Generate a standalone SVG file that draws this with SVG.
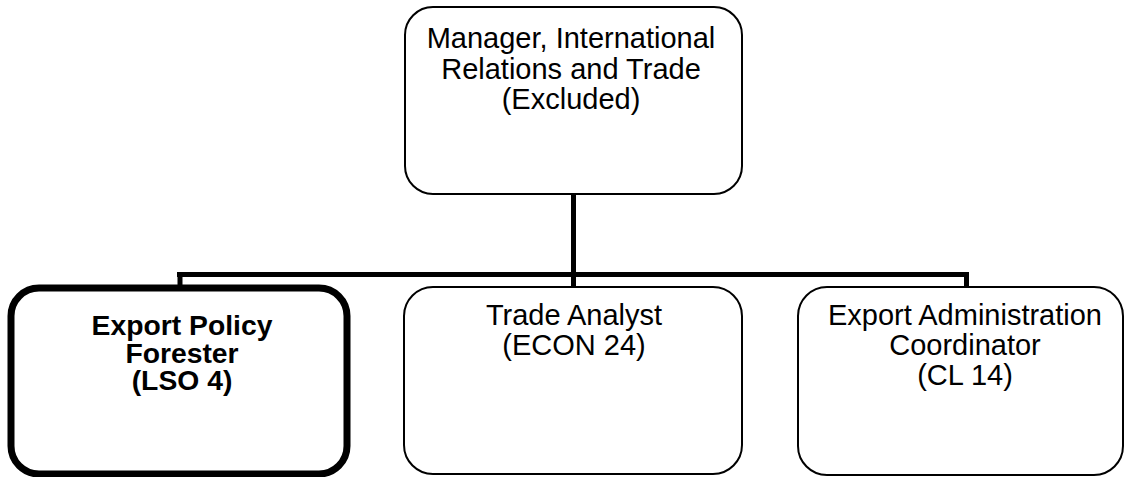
<svg xmlns="http://www.w3.org/2000/svg" width="1126" height="477" viewBox="0 0 1126 477">
<style>
.box{fill:#fff;stroke:#000;stroke-width:2}
.bold{stroke-width:7}
.t{font-family:"Liberation Sans",Arial,sans-serif;font-size:29px;fill:#000;text-anchor:middle}
.tb{font-family:"Liberation Sans",Arial,sans-serif;font-size:28.3px;font-weight:bold;fill:#000;text-anchor:middle}
.c{stroke:#000;stroke-width:5;fill:none}
</style>
<rect width="1126" height="477" fill="#fff"/>
<g id="connectors">
<line class="c" x1="573.5" y1="194" x2="573.5" y2="287"/>
<line class="c" x1="177" y1="274.5" x2="969" y2="274.5"/>
<line class="c" x1="180" y1="272" x2="180" y2="286"/>
<line class="c" x1="966.5" y1="272" x2="966.5" y2="287"/>
</g>
<g id="manager">
<rect class="box" x="405" y="7" width="337" height="187" rx="28" ry="28"/>
<text class="t" x="571" y="48">Manager, International</text>
<text class="t" x="571" y="79">Relations and Trade</text>
<text class="t" x="571" y="109">(Excluded)</text>
</g>
<g id="forester">
<rect class="box bold" x="11" y="288" width="336" height="186" rx="28" ry="28"/>
<text class="tb" x="182" y="335">Export Policy</text>
<text class="tb" x="182" y="362.5">Forester</text>
<text class="tb" x="182" y="390">(LSO 4)</text>
</g>
<g id="analyst">
<rect class="box" x="404" y="287" width="338" height="187" rx="29" ry="29"/>
<text class="t" x="574" y="325">Trade Analyst</text>
<text class="t" x="574" y="355">(ECON 24)</text>
</g>
<g id="coordinator">
<rect class="box" x="798" y="287" width="325" height="188" rx="29" ry="29"/>
<text class="t" x="965" y="325">Export Administration</text>
<text class="t" x="965" y="355">Coordinator</text>
<text class="t" x="965" y="385">(CL 14)</text>
</g>
</svg>
